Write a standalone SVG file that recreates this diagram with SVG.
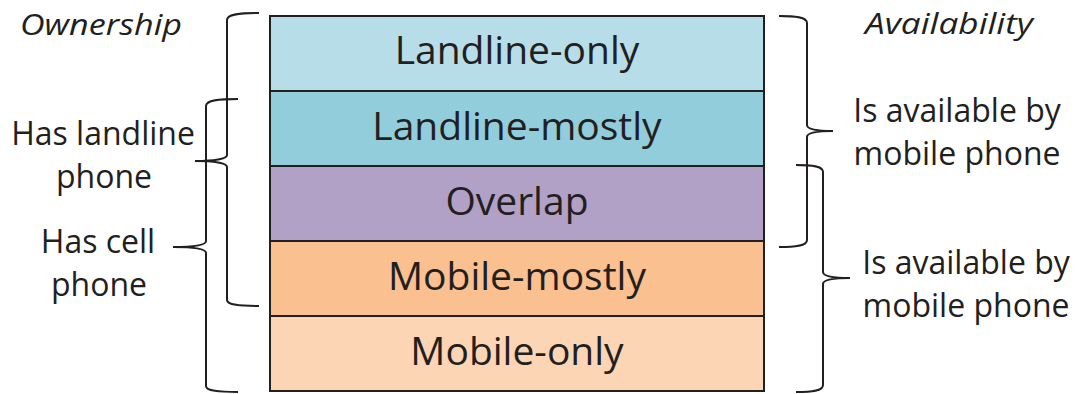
<svg xmlns="http://www.w3.org/2000/svg" width="1081" height="394" viewBox="0 0 1081 394">
<style>
.row{stroke:#231f20;stroke-width:2}
.t{font-family:"Open Sans","Noto Sans",sans-serif;fill:#231f20;text-anchor:middle}
.big{font-size:39px}
.side{font-size:32px}
.hd{font-size:30px;font-style:italic}
.br{fill:none;stroke:#231f20;stroke-width:2}
</style>
<rect width="1081" height="394" fill="#ffffff"/>
<g id="landline-only"><rect class="row" x="270" y="16" width="494" height="75" fill="#b7dde8"/><text class="t big" x="517" y="64">Landline-only</text></g>
<g id="landline-mostly"><rect class="row" x="270" y="91" width="494" height="75" fill="#92cddc"/><text class="t big" x="517" y="140">Landline-mostly</text></g>
<g id="overlap"><rect class="row" x="270" y="166" width="494" height="75" fill="#b2a1c7"/><text class="t big" x="517" y="215">Overlap</text></g>
<g id="mobile-mostly"><rect class="row" x="270" y="241" width="494" height="75" fill="#fac090"/><text class="t big" x="517" y="290">Mobile-mostly</text></g>
<g id="mobile-only"><rect class="row" x="270" y="316" width="494" height="75" fill="#fcd5b5"/><text class="t big" x="517" y="365">Mobile-only</text></g>
<g id="connectors">
<path class="br" d="M259,13 C240,13 227,14 227,20 L227,155 C227,159 214,161 195,161 C214,161 227,163 227,167 L227,300 C227,305 240,306 259,306"/>
<path class="br" d="M238,99 C219,99 206,100 206,106 L206,241 C206,245 195,247 173,247 C195,247 206,249 206,253 L206,386 C206,391 219,392 238,392"/>
<path class="br" d="M779,16 C795,16 807,17 807,23 L807,125 C807,129 815,131 833,131 C815,131 807,133 807,137 L807,240 C807,246 795,247 779,247"/>
<path class="br" d="M796,165 C812,165 823,166 823,172 L823,272 C823,276 832,278 850,278 C832,278 823,280 823,284 L823,385 C823,391 812,392 796,392"/>
</g>
<g id="labels">
<text class="t hd" x="101" y="35" textLength="162" lengthAdjust="spacingAndGlyphs">Ownership</text>
<text class="t hd" x="949" y="34" textLength="168" lengthAdjust="spacingAndGlyphs">Availability</text>
<text class="t side" x="103" y="145">Has landline</text>
<text class="t side" x="104" y="188">phone</text>
<text class="t side" x="98" y="253">Has cell</text>
<text class="t side" x="99" y="296">phone</text>
<text class="t side" x="957" y="122">Is available by</text>
<text class="t side" x="957" y="165">mobile phone</text>
<text class="t side" x="966" y="274">Is available by</text>
<text class="t side" x="966" y="317">mobile phone</text>
</g>
</svg>
